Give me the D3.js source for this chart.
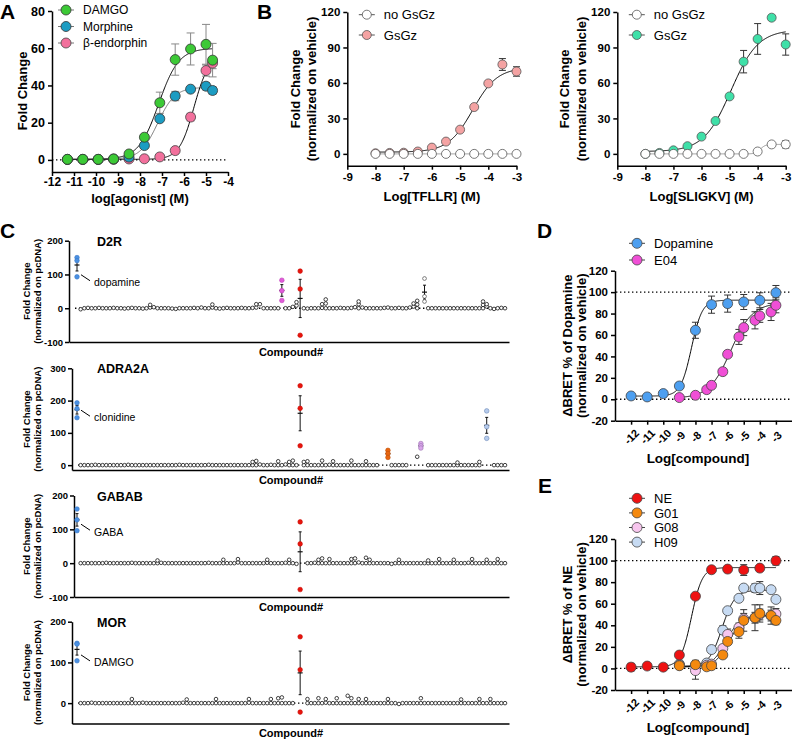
<!DOCTYPE html>
<html>
<head>
<meta charset="utf-8">
<script src="https://cdn.jsdelivr.net/npm/d3@7"></script>
<style>
body { margin: 0; background: #fff; }
</style>
</head>
<body>
<svg id="fig" width="792" height="740"></svg>
<script>
// ---------- panel A : MOR agonists ----------
const aDoses = [-11.3, -10.6, -9.9, -9.2, -8.5, -7.8, -7.1, -6.4, -5.7, -5.0, -4.7]
const aDamgo = [0.3, 0.3, 0.3, 0.5, 3.2, 12.2, 30.7, 53.9, 59.6, 62.1, 53.6]
const aDamgoErr = [0, 0, 0, 0, 0.5, 1.5, 5.7, 8.4, 8.6, 10.7, 9]
const aMorphine = [0.3, 0.3, 0.3, 0.5, 1.5, 7.7, 22.1, 34.3, 38, 39.6, 37.3]
const aMorphineErr = [0, 0, 0, 0, 0, 0.8, 1, 2.5, 1, 2, 2]
const aBendo = [0.2, 0.2, 0.2, 0.3, 0.5, 0.6, 1.6, 5, 23, 48, 52]
const aBendoErr = [0, 0, 0, 0, 0, 0, 0.5, 0.8, 2, 3, 3]
// fit params: bottom, top, logEC50, hill, xmin, xmax
const fitDamgo = [0.3, 60, -7.15, 0.95, -11.3, -4.7]
const fitMorphine = [0.3, 39, -7.2, 1.1, -11.3, -4.7]
const fitBendo = [0.3, 56, -5.55, 1.3, -11.3, -4.7]

// ---------- panel B : PAR1 / PAR2 ----------
const bDoses = [-8, -7.5, -7, -6.5, -6, -5.5, -5, -4.5, -4, -3.5, -3]
const bTfllrGsGz = [0.5, 0.8, 1, 2, 5.3, 10.4, 20.5, 39.6, 59.6, 75.6, 69.7]
const bTfllrGsGzErr = [0, 0, 0, 0, 0.5, 0.5, 0.5, 1, 1, 5, 4]
const bTfllrNo = [0, 0, 0, 0, 0, 0, 0, 0, 0, 0, 0]
const bSligkvGsGz = [0, 0.8, 3, 6.5, 14.6, 27.8, 48.6, 78, 97.2, 115.2, 92.5]
const bSligkvGsGzErr = [0, 0, 0, 0, 0, 0, 0, 9.5, 13, 2, 9]
const bSligkvNo = [0, 0, 0, 0, 0, 0, 0, 0, 2, 8, 8]
const bSligkvNoErr = [0, 0, 0, 0, 0, 0, 0, 0, 0, 1, 3]
const fitTfllrGsGz = [1.5, 73, -4.55, 1.0, -8, -3]
const fitTfllrNo = [0, 0, -5, 1, -8, -3]
const fitSligkvGsGz = [2, 105, -4.95, 0.9, -8, -3]
const fitSligkvNo = [0, 8, -3.9, 5, -8, -3]

// ---------- panel C : screens ----------
const nCompounds = 117
const d2rBase = [-3,0,1,0,0,1,0,0,0,1, 0,0,-1,0,1,0,0,-1,0,2, 3,0,0,0,0,-1,-2,0,0,0, 0,1,0,2,0,0,2,0,-1,0,
  1,0,0,0,1,0,0,1,2,12, 0,0,0,0,0,null,0,0,4,8, null,0,-1,0,0,0,1,0,0,0, 0,1,0,0,1,3,0,2,0,0,
  0,0,0,1,2,0,0,1,0,0, 2,5,0,null,null,0,0,0,0,0, 0,0,0,0,0,0,0,0,0,0, 0,5,0,-2,0,1,0]
const d2rExtra = [[20,10],[37,11],[49,12],[60,18],[67,12],[68,14],[68,26],[77,12],[77,20],[92,14],[93,11],[93,22],[111,10],[111,20],[112,12]]
const d2rHitIdx = [0, 56, 61, 95]
const d2rHitReps = [[150,141,93],[83,52,23],[110,57,-80],[88,35,20]]

const adraBase = [0,0,0,0,1,0,0,0,0,0, 0,0,0,1,0,0,0,0,0,0, 0,0,0,0,0,0,0,1,0,0, 0,0,0,0,0,1,0,0,0,0,
  0,0,0,0,0,0,0,0,0,2, 0,0,1,0,0,0,2,0,0,0, null,0,0,0,0,0,0,0,1,0, 0,0,0,0,0,0,0,0,0,0,
  0,0,null,null,null,0,0,0,0,0, null,null,26,null,null,0,0,0,0,0, 0,0,0,0,0,0,0,0,0,0, null,null,null,0,0,0,0]
const adraExtra = [[48,10],[49,13],[55,12],[58,10],[59,14],[62,10],[63,12],[67,14],[70,12],[75,14],[79,12],[104,8],[110,10]]
const adraHitIdx = [0, 61, 85, 94, 112]
const adraHitReps = [[193,175,147],[246,176,60],[46,36,24],[67,60,53],[168,119,83]]

const gababBase = [0,0,0,0,0,0,0,1,0,0, 0,0,0,0,1,0,0,0,0,0, 0,0,1,0,0,0,0,0,0,0, 0,0,0,0,0,1,0,0,0,0,
  0,0,0,2,0,0,0,0,0,0, 0,1,0,0,0,0,1,0,0,-2, null,null,0,0,1,0,0,0,0,0, 0,0,0,0,0,0,2,0,0,0,
  0,0,0,0,0,-2,0,0,0,0, 0,0,0,0,0,0,0,0,0,0, 0,0,0,0,0,0,1,0,0,0, 0,0,0,0,0,0,0]
const gababExtra = [[22,8],[40,10],[44,12],[52,10],[58,10],[66,10],[67,14],[69,12],[75,12],[76,14],[79,16],[80,10],[88,10],[96,8],[99,12],[103,10],[108,12],[112,10],[115,12]]
const gababHitIdx = [0, 61]
const gababHitReps = [[160,128,96],[122,57,-78]]

const morBase = [0,0,0,1,0,0,0,0,0,0, 0,0,0,0,0,0,0,1,0,0, 0,0,0,0,0,0,0,0,1,0, 0,0,0,0,0,0,0,0,0,0,
  0,0,0,0,0,0,1,0,0,0, 0,0,0,0,0,0,0,0,0,null, null,null,0,0,0,0,0,1,0,0, 0,0,0,0,0,0,0,0,0,0,
  0,0,0,0,0,0,0,-2,0,0, 0,0,0,0,0,0,0,0,0,0, 0,0,0,0,0,0,0,0,0,0, 0,0,0,0,0,0,0]
const morExtra = [[15,10],[30,9],[38,10],[47,10],[53,10],[55,12],[56,14],[63,10],[66,12],[68,10],[71,12],[74,18],[75,12],[77,10],[79,10],[85,10],[94,12],[105,9],[110,10],[113,10]]
const morHitIdx = [0, 61]
const morHitReps = [[147,145,104],[163,82,-22]]

const screenNames = ['D2R', 'ADRA2A', 'GABAB', 'MOR']
const controlNames = ['dopamine', 'clonidine', 'GABA', 'DAMGO']
const controlLabelValue = [77, 147, 93, 100]

// ---------- panel D / E : BRET ----------
const dDopDoses = [-12, -11, -10, -9, -8, -7, -6, -5, -4, -3]
const dDop = [3.1, 2.2, 5.3, 12.4, 64.4, 88.3, 89.3, 90.8, 92.4, 99.5]
const dDopErr = [0, 0, 0, 3, 7.5, 8, 8, 7, 7, 6.7]
const dE04Doses = [-9, -8, -7.3, -7, -6.3, -6, -5.3, -5, -4.3, -4, -3.3, -3]
const dE04 = [1.6, 3.7, 9, 13, 25.8, 42, 58.2, 66.9, 73.7, 77.8, 81.5, 87.7]
const dE04Err = [0, 0, 1, 1, 1, 3, 7, 7.5, 8, 6, 8, 7]
const fitDop = [3, 92.5, -8.25, 1.3, -12, -3]
const fitE04 = [1, 90, -5.8, 0.65, -9, -3]

const eNEDoses = [-12, -11, -10, -9, -8, -7, -6, -5, -4, -3]
const eNE = [1.2, 2.2, 1.2, 12.4, 67, 91.5, 92.1, 91.2, 93, 99.8]
const eNEErr = [3.5, 0, 0, 0, 0, 0, 0, 5, 0, 4]
const eCmpDoses = [-9, -8, -7.3, -7, -6.3, -6, -5.3, -5, -4.3, -4, -3.3, -3]
const eG01 = [2.5, 3.5, 1.5, 2.5, 12.5, 25, 34, 44.5, 47, 51, 49, 44.5]
const eG01Err = [2, 4, 2, 2, 2, 2, 6, 10, 12, 8, 8, 4]
const eG08 = [3, -2, 3, 4, 18.5, 31.5, 38, 46, 47, 50, 49, 50.5]
const eG08Err = [1, 8, 1, 1, 3, 5, 4, 5, 5, 5, 5, 5]
const eH09 = [4, 3, 5, 17.5, 35.5, 53.5, 65, 74.5, 74.5, 74.5, 73, 64]
const eH09Err = [0, 0, 1, 1, 4, 3, 2, 2, 4, 6, 2, 2]
const fitNE = [1.5, 93.5, -8.25, 1.3, -12, -3]
const fitG01 = [1.5, 49, -5.9, 1.0, -9, -3]
const fitG08 = [1.5, 49, -6.1, 1.0, -9, -3]
const fitH09 = [2, 72.5, -6.35, 1.1, -9, -3]

// ======================================================
const FONT = '"Liberation Sans", Arial, Helvetica, sans-serif'
const svg = d3.select('#fig').attr('font-family', FONT)

function hill(p, x) { return p[0] + (p[1] - p[0]) / (1 + Math.pow(10, (p[2] - x) * p[3])) }

function fitLine(g, x, y, p, color) {
  let xs = d3.range(p[4], p[5] + 0.001, 0.02)
  g.append('path').datum(xs)
    .attr('fill', 'none').attr('stroke', color).attr('stroke-width', 1)
    .attr('d', d3.line().x(d => x(d)).y(d => y(hill(p, d))))
}

function errBars(g, x, y, doses, vals, errs, color, cap) {
  doses.forEach((d, i) => {
    if (!errs[i]) return
    let cx = x(d), y1 = y(vals[i] - errs[i]), y2 = y(vals[i] + errs[i])
    g.append('line').attr('x1', cx).attr('x2', cx).attr('y1', y1).attr('y2', y2)
      .attr('stroke', color).attr('stroke-width', 1)
    ;[y1, y2].forEach(yy => g.append('line').attr('x1', cx - cap).attr('x2', cx + cap)
      .attr('y1', yy).attr('y2', yy).attr('stroke', color).attr('stroke-width', 1))
  })
}

function dots(g, x, y, doses, vals, fill, stroke, r) {
  g.append('g').selectAll('circle').data(doses).enter().append('circle')
    .attr('cx', d => x(d)).attr('cy', (d, i) => y(vals[i])).attr('r', r)
    .attr('fill', fill).attr('stroke', stroke).attr('stroke-width', 0.8)
}

function styleAxis(sel, fs) {
  sel.select('.domain').attr('stroke', '#000').attr('stroke-width', 1.5)
  sel.selectAll('.tick line').attr('stroke', '#000').attr('stroke-width', 1.5)
  sel.selectAll('.tick text').attr('font-family', FONT).attr('font-weight', 'bold')
    .attr('font-size', fs).attr('fill', '#000')
}

function text(g, x, y, str, fs, opts = {}) {
  let t = g.append('text').attr('x', x).attr('y', y).text(str)
    .attr('font-size', fs).attr('font-weight', opts.weight || 'bold')
    .attr('text-anchor', opts.anchor || 'start').attr('fill', '#000')
  if (opts.rotate) t.attr('transform', `rotate(-90,${x},${y})`)
  return t
}

function legend(g, items, x0, y0, dy, fs, lineColor) {
  items.forEach((it, i) => {
    let y = y0 + i * dy
    g.append('line').attr('x1', x0 - 8).attr('x2', x0 + 8).attr('y1', y).attr('y2', y)
      .attr('stroke', lineColor).attr('stroke-width', 1)
    g.append('circle').attr('cx', x0).attr('cy', y).attr('r', it.r || 5)
      .attr('fill', it.fill).attr('stroke', it.stroke).attr('stroke-width', 0.8)
    text(g, x0 + 17, y + fs * 0.36, it.label, fs, { weight: 'normal' })
  })
}

function dotted(g, x1, x2, y) {
  g.append('line').attr('x1', x1).attr('x2', x2).attr('y1', y).attr('y2', y)
    .attr('stroke', '#000').attr('stroke-width', 1.3).attr('stroke-dasharray', '1.4,2.6')
}

const fmt = d => String(d)

// ---------- A ----------
{
  let g = svg.append('g')
  let x = d3.scaleLinear([-12, -4], [52, 228])
  let y = d3.scaleLinear([-6.5, 80], [172, 11])
  dotted(g, 52, 228, y(0))
  g.append('g').attr('transform', 'translate(0,172)')
    .call(d3.axisBottom(x).tickValues(d3.range(-12, -3)).tickFormat(fmt).tickSize(4).tickSizeOuter(0).tickPadding(1))
    .call(s => styleAxis(s, 12))
  g.append('g').attr('transform', 'translate(52,0)')
    .call(d3.axisLeft(y).tickValues([0, 20, 40, 60, 80]).tickFormat(fmt).tickSize(4).tickSizeOuter(0).tickPadding(3))
    .call(s => styleAxis(s, 12.5))
  fitLine(g, x, y, fitDamgo, '#000')
  fitLine(g, x, y, fitMorphine, '#777')
  fitLine(g, x, y, fitBendo, '#000')
  errBars(g, x, y, aDoses, aDamgo, aDamgoErr, '#888', 4)
  errBars(g, x, y, aDoses, aMorphine, aMorphineErr, '#888', 4)
  errBars(g, x, y, aDoses, aBendo, aBendoErr, '#888', 4)
  dots(g, x, y, aDoses, aBendo, '#f2709c', '#444', 5)
  dots(g, x, y, aDoses, aMorphine, '#1c9cc2', '#333', 5)
  dots(g, x, y, aDoses, aDamgo, '#3cc936', '#333', 5)
  legend(g, [
    { label: 'DAMGO', fill: '#3cc936', stroke: '#333' },
    { label: 'Morphine', fill: '#1c9cc2', stroke: '#333' },
    { label: 'β-endorphin', fill: '#f2709c', stroke: '#444' }
  ], 66, 10, 16.5, 12, '#777')
  text(g, 22, 91, 'Fold Change', 13, { anchor: 'middle', rotate: true }).attr('dy', '0.35em')
  text(g, 140, 203, 'log[agonist] (M)', 13, { anchor: 'middle' })
  text(g, 0, 19, 'A', 21)
}

// ---------- B ----------
function panelB(x0, x1, gs, gsErr, no, noErr, fitGs, fitNo, gsColor, xLabel, labX) {
  let g = svg.append('g')
  let x = d3.scaleLinear([-9, -3], [x0, x1])
  let y = d3.scaleLinear([-10, 120], [165.7, 12])
  g.append('g').attr('transform', 'translate(0,165.7)')
    .call(d3.axisBottom(x).tickValues(d3.range(-9, -2)).tickFormat(fmt).tickSize(4).tickSizeOuter(0).tickPadding(3))
    .call(s => styleAxis(s, 11.5))
  g.append('g').attr('transform', `translate(${x0},0)`)
    .call(d3.axisLeft(y).tickValues([0, 30, 60, 90, 120]).tickFormat(fmt).tickSize(4).tickSizeOuter(0).tickPadding(3))
    .call(s => styleAxis(s, 11.5))
  fitLine(g, x, y, fitNo, '#999')
  fitLine(g, x, y, fitGs, '#000')
  errBars(g, x, y, bDoses, gs, gsErr, '#333', 3.5)
  errBars(g, x, y, bDoses, no, noErr, '#333', 3.5)
  dots(g, x, y, bDoses, gs, gsColor, '#555', 4.5)
  dots(g, x, y, bDoses, no, '#fff', '#555', 4.5)
  legend(g, [
    { label: 'no GsGz', fill: '#fff', stroke: '#555', r: 4.5 },
    { label: 'GsGz', fill: gsColor, stroke: '#555', r: 4.5 }
  ], x0 + 19.5, 14.7, 20.3, 13, '#555')
  text(g, labX, 89, 'Fold Change', 13, { anchor: 'middle', rotate: true }).attr('dy', '0.35em')
  text(g, labX + 16.5, 89, '(normalized on vehicle)', 13, { anchor: 'middle', rotate: true }).attr('dy', '0.35em')
  text(g, (x0 + x1) / 2, 201, xLabel, 13, { anchor: 'middle' })
}
panelB(347.3, 516.5, bTfllrGsGz, bTfllrGsGzErr, bTfllrNo, bTfllrNo, fitTfllrGsGz, fitTfllrNo, '#f4a3a3', 'Log[TFLLR] (M)', 295)
panelB(617.3, 785.7, bSligkvGsGz, bSligkvGsGzErr, bSligkvNo, bSligkvNoErr, fitSligkvGsGz, fitSligkvNo, '#3fe0a8', 'Log[SLIGKV] (M)', 564.5)
text(svg, 257, 19, 'B', 21)

// ---------- C ----------
const screenBase = [d2rBase, adraBase, gababBase, morBase]
const screenExtra = [d2rExtra, adraExtra, gababExtra, morExtra]
const screenHitIdx = [d2rHitIdx, adraHitIdx, gababHitIdx, morHitIdx]
const screenHitReps = [d2rHitReps, adraHitReps, gababHitReps, morHitReps]
// layout per screen: axis x, y domain, pixel range, ticks
const screenLayout = [
  { ax: 69, dom: [-100, 200], rng: [342, 240.7], ticks: [-100, 0, 100, 200] },
  { ax: 72, dom: [-15, 300], rng: [470, 368.3], ticks: [0, 100, 200, 300] },
  { ax: 74, dom: [-100, 200], rng: [597, 495.5], ticks: [-100, 0, 100, 200] },
  { ax: 72, dom: [-50, 200], rng: [723.5, 621.7], ticks: [0, 100, 200] }
]
const hitFill = [
  ['#4a90e2', '#e05bd8', '#e8140c', '#fff'],
  ['#4a90e2', '#e8140c', '#e8650f', '#d9a6ea', '#b6cbec'],
  ['#4a90e2', '#e8140c'],
  ['#4a90e2', '#e8140c']
]
const hitStroke = [
  ['#3a78c8', '#c040b8', '#c80a04', '#333'],
  ['#3a78c8', '#c80a04', '#c05008', '#9a70b0', '#6f8cb8'],
  ['#3a78c8', '#c80a04'],
  ['#3a78c8', '#c80a04']
]

screenNames.forEach((name, k) => {
  let L = screenLayout[k]
  let g = svg.append('g')
  let x = d3.scaleLinear([0, nCompounds], [77, 505])
  let y = d3.scaleLinear(L.dom, L.rng)
  dotted(g, L.ax + 6, 505, y(0))
  g.append('g').attr('transform', `translate(0,${L.rng[0]})`)
    .call(d3.axisBottom(d3.scaleLinear([0, 1], [L.ax, 509])).tickValues([]).tickSizeOuter(0))
    .call(s => styleAxis(s, 10))
  g.append('g').attr('transform', `translate(${L.ax},0)`)
    .call(d3.axisLeft(y).tickValues(L.ticks).tickFormat(fmt).tickSize(4).tickSizeOuter(0).tickPadding(2))
    .call(s => styleAxis(s, 9.5))

  let base = screenBase[k]
  let pts = base.map((v, i) => ({ i: i + 1, v })).filter(d => d.v !== null)
    .concat(screenExtra[k].map(d => ({ i: d[0], v: d[1] })))
  g.append('g').selectAll('circle').data(pts).enter().append('circle')
    .attr('cx', d => x(d.i)).attr('cy', d => y(d.v)).attr('r', 1.8)
    .attr('fill', '#fff').attr('stroke', '#111').attr('stroke-width', 0.8)

  screenHitIdx[k].forEach((idx, h) => {
    let reps = screenHitReps[k][h]
    let m = d3.mean(reps), sem = d3.deviation(reps) / Math.sqrt(reps.length)
    let cx = x(idx)
    g.append('line').attr('x1', cx).attr('x2', cx).attr('y1', y(m - sem)).attr('y2', y(m + sem))
      .attr('stroke', '#111').attr('stroke-width', 1)
    ;[m - sem, m + sem].forEach(v => g.append('line').attr('x1', cx - 1.5).attr('x2', cx + 1.5)
      .attr('y1', y(v)).attr('y2', y(v)).attr('stroke', '#111').attr('stroke-width', 1))
    g.append('line').attr('x1', cx - 2.5).attr('x2', cx + 2.5).attr('y1', y(m)).attr('y2', y(m))
      .attr('stroke', '#111').attr('stroke-width', 1.2)
    g.append('g').selectAll('circle').data(reps).enter().append('circle')
      .attr('cx', cx).attr('cy', d => y(d)).attr('r', hitFill[k][h] === '#fff' ? 1.9 : 2.3)
      .attr('fill', hitFill[k][h]).attr('stroke', hitStroke[k][h]).attr('stroke-width', 0.6)
  })

  // control annotation
  let ly = y(controlLabelValue[k])
  g.append('line').attr('x1', x(0) + 4).attr('x2', x(0) + 13).attr('y1', ly - 7.5).attr('y2', ly - 1.5)
    .attr('stroke', '#000').attr('stroke-width', 1)
  text(g, x(0) + 17, ly + 3.8, controlNames[k], 10.5, { weight: 'normal' })

  text(g, 97, L.rng[1] + 5, name, 12.5)
  let cy = (L.rng[0] + L.rng[1]) / 2
  text(g, 27, cy, 'Fold Change', 9.5, { anchor: 'middle', rotate: true }).attr('dy', '0.35em')
  text(g, 38, cy, '(normalized on pcDNA)', 9.5, { anchor: 'middle', rotate: true }).attr('dy', '0.35em')
  text(g, 291, L.rng[0] + 13.5, 'Compound#', 11, { anchor: 'middle' })
})
text(svg, 0, 238, 'C', 21)

// ---------- D / E ----------
function panelBret(top, bottom, yLabel, series, legendItems, legendY, legendDy) {
  let g = svg.append('g')
  let x = d3.scaleLinear([-13, -2], [615, 792])
  let y = d3.scaleLinear([-20, 120], [bottom, top])
  dotted(g, 616, 792, y(100))
  dotted(g, 616, 792, y(0))
  let xa = g.append('g').attr('transform', `translate(0,${bottom})`)
    .call(d3.axisBottom(x).tickValues(d3.range(-12, -2)).tickFormat(fmt).tickSize(4).tickSizeOuter(0))
    .call(s => styleAxis(s, 11))
  xa.selectAll('.tick text').attr('text-anchor', 'middle').attr('y', 0)
    .attr('transform', 'translate(0,16) rotate(-45)').attr('dy', '0.35em')
  g.append('g').attr('transform', 'translate(615,0)')
    .call(d3.axisLeft(y).tickValues(d3.range(-20, 121, 20)).tickFormat(fmt).tickSize(4).tickSizeOuter(0).tickPadding(3))
    .call(s => styleAxis(s, 11.5))
  series.forEach(s => fitLine(g, x, y, s.fit, '#000'))
  series.forEach(s => errBars(g, x, y, s.doses, s.vals, s.errs, '#333', 3.5))
  series.forEach(s => dots(g, x, y, s.doses, s.vals, s.fill, '#444', 5))
  legend(g, legendItems, 637, legendY, legendDy, 13, '#444')
  let cy = (top + bottom) / 2
  text(g, 567, cy, yLabel, 13, { anchor: 'middle', rotate: true }).attr('dy', '0.35em')
  text(g, 581, cy, '(normalized on vehicle)', 13, { anchor: 'middle', rotate: true }).attr('dy', '0.35em')
  text(g, 698, bottom + 42, 'Log[compound]', 13.5, { anchor: 'middle' })
}

panelBret(270.7, 420.7, 'ΔBRET % of Dopamine', [
  { doses: dDopDoses, vals: dDop, errs: dDopErr, fit: fitDop, fill: '#4d9ff0' },
  { doses: dE04Doses, vals: dE04, errs: dE04Err, fit: fitE04, fill: '#f04fd6' }
], [
  { label: 'Dopamine', fill: '#4d9ff0', stroke: '#444' },
  { label: 'E04', fill: '#f04fd6', stroke: '#444' }
], 243.3, 16.7)
text(svg, 537, 238, 'D', 21)

panelBret(539, 690, 'ΔBRET % of NE', [
  { doses: eCmpDoses, vals: eH09, errs: eH09Err, fit: fitH09, fill: '#c7dbf3' },
  { doses: eCmpDoses, vals: eG08, errs: eG08Err, fit: fitG08, fill: '#f7c6ee' },
  { doses: eCmpDoses, vals: eG01, errs: eG01Err, fit: fitG01, fill: '#f4890f' },
  { doses: eNEDoses, vals: eNE, errs: eNEErr, fit: fitNE, fill: '#ee1212' }
], [
  { label: 'NE', fill: '#ee1212', stroke: '#444' },
  { label: 'G01', fill: '#f4890f', stroke: '#444' },
  { label: 'G08', fill: '#f7c6ee', stroke: '#444' },
  { label: 'H09', fill: '#c7dbf3', stroke: '#444' }
], 498.3, 14.6)
text(svg, 538, 493, 'E', 21)
</script>
</body>
</html>
